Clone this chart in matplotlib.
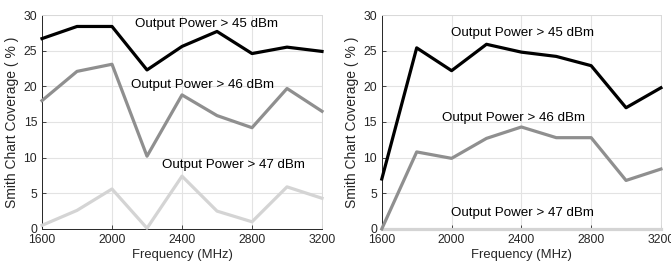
import matplotlib.pyplot as plt

plt.rcParams['font.family'] = ['Liberation Sans', 'DejaVu Sans']

freq = [1600, 1800, 2000, 2200, 2400, 2600, 2800, 3000, 3200]

# left panel
left_45 = [26.7, 28.4, 28.4, 22.3, 25.6, 27.7, 24.6, 25.5, 24.9]
left_46 = [18.0, 22.1, 23.1, 10.2, 18.8, 15.9, 14.2, 19.7, 16.5]
left_47 = [0.5, 2.6, 5.6, 0.1, 7.4, 2.5, 1.0, 5.9, 4.3]

# right panel
right_45 = [7.0, 25.4, 22.2, 25.9, 24.8, 24.2, 22.9, 17.0, 19.8]
right_46 = [0.0, 10.8, 9.9, 12.7, 14.3, 12.8, 12.8, 6.8, 8.4]
right_47 = [0, 0, 0, 0, 0, 0, 0, 0, 0]

labels = ['Output Power > 45 dBm', 'Output Power > 46 dBm', 'Output Power > 47 dBm']
colors = ['#000000', '#8f8f8f', '#d4d4d4']

fig = plt.figure(figsize=(6.71, 2.69), dpi=100)
ax1 = fig.add_axes([0.0626, 0.149, 0.4173, 0.795])
ax2 = fig.add_axes([0.569, 0.149, 0.416, 0.795])

def style(ax):
    ax.set_xlim(1600, 3200)
    ax.set_ylim(0, 30)
    ax.set_xticks([1600, 2000, 2400, 2800, 3200])
    ax.set_yticks([0, 5, 10, 15, 20, 25, 30])
    ax.grid(True, color='#e3e3e3', lw=0.8)
    ax.set_axisbelow(True)
    ax.tick_params(direction='in', length=3, labelsize=8.8, colors='#262626', width=0.6)
    for s in ['left', 'bottom']:
        ax.spines[s].set_color('#262626')
        ax.spines[s].set_linewidth(0.7)
    for s in ['top', 'right']:
        ax.spines[s].set_color('#d9d9d9')
        ax.spines[s].set_linewidth(0.7)
    ax.set_xlabel('Frequency (MHz)', fontsize=9.4, color='#262626', labelpad=2)
    ax.set_ylabel('Smith Chart Coverage ( % )', fontsize=10, color='#262626', labelpad=3)

for ax, series in [(ax1, [left_45, left_46, left_47]), (ax2, [right_45, right_46, right_47])]:
    for vals, c in zip(series[::-1], colors[::-1]):
        ax.plot(freq, vals, color=c, lw=2.3, clip_on=False, zorder=3)
    style(ax)

ax1.text(2131, 28.7, labels[0], fontsize=9.6, va='center')
ax1.text(2109, 20.2, labels[1], fontsize=9.6, va='center')
ax1.text(2286, 9.0, labels[2], fontsize=9.6, va='center')
ax2.text(1996, 27.5, labels[0], fontsize=9.6, va='center')
ax2.text(1944, 15.6, labels[1], fontsize=9.6, va='center')
ax2.text(1996, 2.2, labels[2], fontsize=9.6, va='center')

fig.savefig('out.png', dpi=100)
